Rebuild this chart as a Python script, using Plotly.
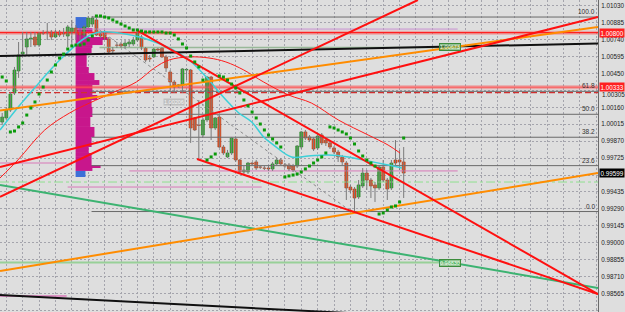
import plotly.graph_objects as go

# ---------------- data ----------------
opens = [1.00034,1.00069,1.00137,1.00283,1.00472,1.00617,1.00677,1.00746,1.00763,1.00694,
         1.00797,1.00797,1.00806,1.00763,1.00806,1.00797,1.00771,1.00797,1.00840,1.00797,
         1.00780,1.00849,1.00874,1.00909,1.00789,1.00797,1.00746,1.00651,1.00694,1.00703,
         1.00686,1.00703,1.00703,1.00737,1.00763,1.00669,1.00583,1.00592,1.00660,1.00669,
         1.00592,1.00463,1.00377,1.00343,1.00352,1.00480,1.00480,1.00069,1.00009,0.99923,
         1.00052,1.00420,0.99983,1.00077,0.99820,0.99735,0.99769,0.99889,0.99709,0.99606,
         0.99606,0.99683,0.99692,0.99649,0.99640,0.99640,0.99632,0.99675,0.99709,0.99666,
         0.99666,0.99657,0.99657,0.99820,0.99949,0.99906,0.99889,0.99812,0.99923,0.99880,
         0.99855,0.99812,0.99777,0.99735,0.99683,0.99477,0.99460,0.99392,0.99486,0.99597,
         0.99537,0.99495,0.99469,0.99649,0.99537,0.99469,0.99709,0.99709,0.99692]
highs = [1.00112,1.00163,1.00292,1.00506,1.00720,1.00806,1.00806,1.00806,1.00806,1.00806,
         1.00823,1.00883,1.00823,1.00823,1.00823,1.00840,1.00866,1.00909,1.00866,1.00840,
         1.00866,1.00943,1.00943,1.00926,1.00806,1.00823,1.00763,1.00677,1.00720,1.00720,
         1.00737,1.00737,1.00763,1.00806,1.00780,1.00677,1.00609,1.00669,1.00669,1.00677,
         1.00609,1.00480,1.00394,1.00360,1.00497,1.00497,1.00489,1.00077,1.00223,1.00069,
         1.00429,1.00429,1.00077,1.00094,0.99837,0.99795,0.99906,0.99897,0.99717,0.99666,
         0.99692,0.99692,0.99709,0.99666,0.99657,0.99657,0.99692,0.99726,0.99726,0.99683,
         0.99683,0.99675,0.99837,0.99957,0.99966,0.99923,0.99906,0.99932,0.99940,0.99897,
         0.99872,0.99829,0.99795,0.99752,0.99700,0.99495,0.99477,0.99537,0.99640,0.99623,
         0.99555,0.99520,0.99666,0.99709,0.99555,0.99709,0.99880,0.99795,0.99820]
lows = [1.00009,1.00052,1.00120,1.00266,1.00412,1.00600,1.00609,1.00677,1.00677,1.00677,
        1.00780,1.00737,1.00737,1.00754,1.00763,1.00763,1.00677,1.00694,1.00737,1.00737,
        1.00763,1.00840,1.00849,1.00771,1.00754,1.00737,1.00626,1.00626,1.00669,1.00669,
        1.00669,1.00677,1.00686,1.00720,1.00651,1.00549,1.00549,1.00583,1.00643,1.00583,
        1.00463,1.00292,1.00283,1.00326,1.00283,1.00394,0.99855,0.99957,0.99709,0.99906,
        1.00034,0.99880,0.99966,0.99812,0.99752,0.99726,0.99752,0.99692,0.99589,0.99589,
        0.99589,0.99657,0.99623,0.99632,0.99623,0.99615,0.99615,0.99657,0.99657,0.99640,
        0.99615,0.99606,0.99640,0.99803,0.99880,0.99863,0.99786,0.99795,0.99837,0.99829,
        0.99803,0.99760,0.99692,0.99666,0.99366,0.99426,0.99255,0.99375,0.99469,0.99452,
        0.99383,0.99349,0.99452,0.99520,0.99366,0.99452,0.99666,0.99623,0.99383]
closes = [1.00077,1.00137,1.00274,1.00480,1.00609,1.00634,1.00746,1.00754,1.00694,1.00797,
          1.00795,1.00806,1.00763,1.00806,1.00780,1.00789,1.00849,1.00840,1.00797,1.00780,
          1.00849,1.00926,1.00926,1.00780,1.00771,1.00754,1.00634,1.00643,1.00692,1.00686,
          1.00711,1.00720,1.00737,1.00797,1.00669,1.00566,1.00574,1.00660,1.00651,1.00592,
          1.00497,1.00377,1.00334,1.00352,1.00489,1.00485,0.99983,0.99966,1.00005,1.00052,
          1.00420,0.99983,1.00069,0.99820,0.99769,0.99769,0.99897,0.99709,0.99606,0.99623,
          0.99683,0.99675,0.99640,0.99647,0.99638,0.99632,0.99675,0.99709,0.99675,0.99657,
          0.99632,0.99623,0.99829,0.99949,0.99897,0.99880,0.99803,0.99914,0.99855,0.99855,
          0.99820,0.99777,0.99735,0.99692,0.99469,0.99452,0.99383,0.99495,0.99597,0.99537,
          0.99486,0.99469,0.99649,0.99537,0.99460,0.99683,0.99683,0.99692,0.99597]
sar = [1.00420,1.00386,0.99949,0.99957,0.99992,1.00026,1.00094,1.00154,1.00206,1.00274,
       1.00334,1.00394,1.00463,1.00523,1.00583,1.00617,1.00660,1.00686,1.00694,1.00694,
       1.00703,1.00737,1.00771,1.00943,1.00943,1.00934,1.00926,1.00909,1.00891,1.00874,
       1.00857,1.00840,1.00823,1.00823,1.00814,1.00806,1.00806,1.00806,1.00806,1.00806,
       1.00797,1.00797,1.00780,1.00746,1.00703,1.00669,1.00600,1.00549,1.00506,1.00394,
       0.99709,0.99735,0.99760,1.00429,1.00420,1.00394,1.00360,1.00326,1.00283,1.00223,
       1.00172,1.00120,1.00069,1.00017,0.99966,0.99923,0.99889,0.99855,0.99820,0.99563,
       0.99572,0.99580,0.99589,0.99606,0.99632,0.99657,0.99683,0.99709,0.99735,0.99769,
       0.99992,0.99983,0.99966,0.99949,0.99932,0.99897,0.99846,0.99786,0.99743,0.99709,
       0.99683,0.99657,0.99246,0.99255,0.99280,0.99306,0.99315,0.99349,0.99897]

ma_fast_x = [-0.53,4.32,9.18,14.04,20.59,23.75,28.61,33.47,35.90,40.75,45.61,50.47,52.90,
             55.33,57.75,60.91,63.82,66.25,70.63,74.75,79.61,84.47,89.33,94.19,97.58]
ma_fast_y = [0.99966,1.00180,1.00377,1.00566,1.00763,1.00806,1.00797,1.00763,1.00737,1.00669,
             1.00566,1.00394,1.00292,1.00197,1.00112,1.00034,0.99906,0.99837,0.99735,0.99743,
             0.99752,0.99735,0.99700,0.99666,0.99640]
ma_slow_x = [-0.53,3.84,10.39,16.47,21.32,27.40,32.74,37.11,40.75,45.61,50.47,54.60,58.97,
             63.82,69.90,75.48,82.04,89.33,94.19,97.10]
ma_slow_y = [0.99555,0.99709,0.99966,1.00112,1.00197,1.00292,1.00377,1.00497,1.00566,1.00592,
             1.00583,1.00549,1.00480,1.00377,1.00266,1.00197,1.00052,0.99923,0.99837,0.99769]

# trend lines: (x0, y0, x1, y1) in bar index / price
trend_red = [(-0.53,0.99392,101.47,1.01080),(-0.53,0.99649,145.43,1.00934),
             (32.74,1.00823,145.43,0.98560),(47.55,0.99717,145.43,0.98560)]
trend_orange = [(-0.53,0.98758,145.43,0.99597),(-0.53,1.00132,145.43,1.00849)]
trend_green = [(-0.53,0.99495,145.43,0.98612)]
trend_black = [(-0.53,1.00600,145.43,1.00707),(-0.53,0.98552,145.43,0.98286)]
trend_dotted = [(23.75,1.00823,85.68,0.99255)]

fib_low, fib_high = 0.99267, 1.00934
fib_levels = [0.0, 23.6, 38.2, 50.0, 61.8, 100.0]

profile_edges = [1.00934,1.00840,1.00797,1.00763,1.00737,1.00694,1.00669,1.00626,1.00506,
                 1.00454,1.00394,1.00352,1.00266,1.00223,1.00163,1.00077,0.99992,0.99906,
                 0.99820,0.99769,0.99735,0.99666,0.99640,0.99615,0.99563]
profile_volume = [2.7,4.1,2.7,7.8,6.6,4.1,3.9,2.7,3.2,4.6,5.8,4.1,5.3,3.9,4.1,3.6,4.6,3.9,
                  3.2,3.9,3.9,6.1,4.1,2.4]
profile_start = 17.92

y_ticks = [1.01030,1.00885,1.00740,1.00595,1.00450,1.00305,1.00160,1.00015,0.99870,0.99725,
           0.99580,0.99435,0.99290,0.99145,0.99000,0.98855,0.98710,0.98565,0.98420]

X0, X1 = -0.534, 145.43
Y0, Y1 = 0.98406, 1.01080
BG = "#dedede"
FONT = "Liberation Sans"

fig = go.Figure()

# market profile
n_bins = len(profile_volume)
centers = [(profile_edges[i] + profile_edges[i+1]) / 2 for i in range(n_bins)]
heights = [profile_edges[i] - profile_edges[i+1] for i in range(n_bins)]
pcolors = ["#3d6fd8" if i in (0, n_bins-1) else "#c8168c" for i in range(n_bins)]
fig.add_trace(go.Bar(orientation="h", y=centers, x=profile_volume, base=profile_start,
                     width=heights, marker=dict(color=pcolors, line=dict(width=0)),
                     hoverinfo="skip"))

def hline(price, x0=X0, x1=X1, color="black", width=1, dash="solid"):
    fig.add_trace(go.Scatter(x=[x0, x1], y=[price, price], mode="lines",
                             line=dict(color=color, width=width, dash=dash), hoverinfo="skip"))

def seg(s, color, width, dash="solid"):
    fig.add_trace(go.Scatter(x=[s[0], s[2]], y=[s[1], s[3]], mode="lines",
                             line=dict(color=color, width=width, dash=dash), hoverinfo="skip"))

# fibonacci lines
for lv in fib_levels:
    hline(fib_low + lv / 100 * (fib_high - fib_low), 21.81, X1, "#6a6a6a", 1)

# horizontal lines
hline(1.00800, color="rgba(255,60,60,0.35)", width=4)
hline(1.00800, color="#ff2020", width=1.2)
hline(1.00333, color="rgba(255,60,60,0.35)", width=4)
hline(1.00333, color="#ff5050", width=1)
hline(1.00287, color="#d03030", width=1.2, dash="6px,3px")
hline(1.00831, 18.17, 111.18, "#c890d0", 1)
hline(1.00673, 23.75, 106.81, "#98b898", 1.5)
hline(0.99615, 31.04, 111.18, "#d878b8", 1)
hline(0.99477, 15.98, 63.34, "#d878b8", 1)
hline(0.99683, X0, 15.74, "#d878b8", 1)
hline(0.98543, X0, 15.74, "#d878b8", 1.5)
hline(0.99520, color="#90e090", width=1, dash="dashdot")
hline(0.98830, X0, 106.81, "#98d098", 2)

# candles: wicks + bodies
bars = list(range(len(opens)))
wx, wy = [], []
for i in bars:
    wx += [i, i, None]
    wy += [lows[i], highs[i], None]
fig.add_trace(go.Scatter(x=wx, y=wy, mode="lines", line=dict(color="#7a7a7a", width=1),
                         hoverinfo="skip"))
body_base = [min(o, c) for o, c in zip(opens, closes)]
body_len = [max(abs(c - o), 0.000015) for o, c in zip(opens, closes)]
body_col = ["#2fb52f" if c > o else ("#f0501e" if c < o else "#7a7a7a") for o, c in zip(opens, closes)]
body_line = ["#1f7a1f" if c > o else ("#a83812" if c < o else "#7a7a7a") for o, c in zip(opens, closes)]
fig.add_trace(go.Bar(x=bars, y=body_len, base=body_base, width=0.72,
                     marker=dict(color=body_col, line=dict(color=body_line, width=0.6)),
                     hoverinfo="skip"))

# moving averages
fig.add_trace(go.Scatter(x=ma_slow_x, y=ma_slow_y, mode="lines", line=dict(color="#ff1a1a", width=1, shape="spline"), hoverinfo="skip"))
fig.add_trace(go.Scatter(x=ma_fast_x, y=ma_fast_y, mode="lines", line=dict(color="#3cd0d8", width=1.5, shape="spline"), hoverinfo="skip"))

# trend lines
for s in trend_dotted:
    seg(s, "#8a8a8a", 1, "dot")
for s in trend_black:
    seg(s, "#101010", 2)
for s in trend_green:
    seg(s, "#3cb371", 2)
for s in trend_orange:
    seg(s, "#ff8c00", 2)
for s in trend_red:
    seg(s, "#ff1010", 2)

# parabolic SAR
fig.add_trace(go.Scatter(x=bars, y=sar, mode="markers",
                         marker=dict(color="#0a9a0a", size=3, symbol="square", line=dict(width=0)),
                         hoverinfo="skip"))

# annotations
ann = []
for lv in fib_levels:
    ann.append(dict(x=X1, y=fib_low + lv / 100 * (fib_high - fib_low), xref="x", yref="y",
                    text=f"{lv:.1f}", showarrow=False, xanchor="right", yanchor="bottom",
                    xshift=-1, font=dict(size=6.5, color="#333333", family=FONT)))
# tick label that sits just under the red price box (drawn first, box covers its top)
ann.append(dict(x=1, y=1.00305, xref="paper", yref="y", text="1.00305", showarrow=False,
                xanchor="left", yanchor="top", xshift=2, yshift=1,
                font=dict(size=6.3, color="#222222", family=FONT)))
for price, txt, bg in [(1.00800, "1.00800", "#ff2020"), (1.00333, "1.00333", "#ff2020"),
                       (0.99599, "0.99599", "#000000")]:
    ann.append(dict(x=1, y=price, xref="paper", yref="y", text=txt, showarrow=False,
                    xanchor="left", yanchor="middle", xshift=1, bgcolor=bg, borderpad=0.5,
                    font=dict(size=6.3, color="white", family=FONT)))
for xi, price, txt in [(109.4, 1.00673, "1.00673"), (109.4, 0.98830, "0.98830")]:
    ann.append(dict(x=xi, y=price, xref="x", yref="y", text=txt, showarrow=False,
                    bgcolor="rgba(90,175,90,0.55)", bordercolor="#3c8c3c", borderwidth=1,
                    borderpad=0, font=dict(size=5.5, color="#eaffea", family=FONT)))
ann.append(dict(x=41.97, y=1.00206, xref="x", yref="y", text="1.00206", showarrow=False,
                bgcolor="rgba(165,165,165,0.55)", borderpad=0,
                font=dict(size=5.5, color="#f4f4f4", family=FONT)))

hidden = (0.99580, 1.00305)
fig.update_layout(
    width=625, height=312, margin=dict(l=0, r=24, t=0, b=0),
    plot_bgcolor=BG, paper_bgcolor=BG, showlegend=False, annotations=ann, barmode="overlay",
    xaxis=dict(range=[X0, X1], showticklabels=False, tick0=1, dtick=4, showgrid=True,
               gridcolor="#a4a4ac", griddash="2px,2px", gridwidth=1, zeroline=False,
               fixedrange=True),
    yaxis=dict(range=[Y0, Y1], side="right", tickvals=y_ticks,
               ticktext=["" if any(abs(v - h) < 1e-7 for h in hidden) else f"{v:.5f}" for v in y_ticks],
               showgrid=True, gridcolor="#a4a4ac", griddash="2px,2px", zeroline=False,
               showline=True, linecolor="#6a6a6a", linewidth=1, ticks="",
               ticklabelstandoff=1, tickfont=dict(size=6.3, color="#222222", family=FONT)),
)
fig.write_html("out.html")
